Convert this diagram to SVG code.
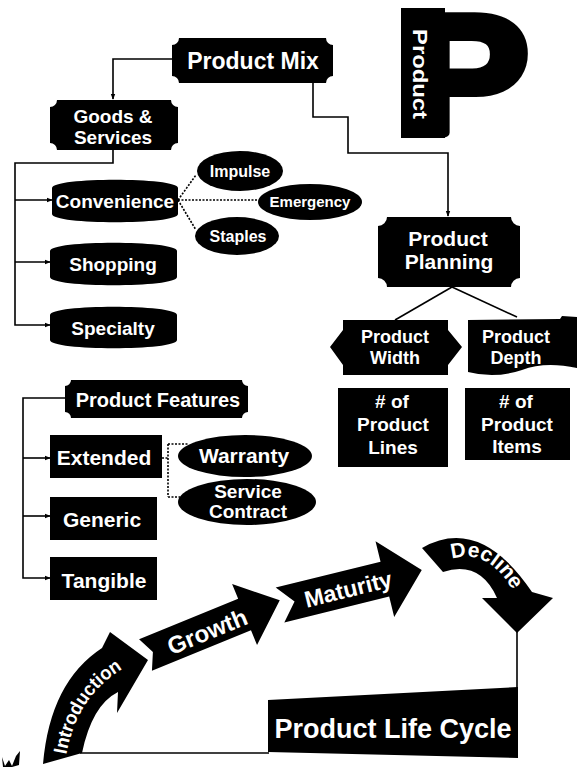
<svg xmlns="http://www.w3.org/2000/svg" width="581" height="767" viewBox="0 0 581 767">
<style>
.blk{fill:#000}
.t{font-family:"Liberation Sans",Arial,sans-serif;font-weight:bold;fill:#fff;text-anchor:middle}
.con{fill:none;stroke:#000;stroke-width:1.6}
.dot{fill:none;stroke:#000;stroke-width:1.6;stroke-dasharray:2 1.5}
</style>
<defs>
<marker id="ah" viewBox="0 0 8 8" refX="7" refY="4" markerWidth="6" markerHeight="6" orient="auto" markerUnits="userSpaceOnUse"><path d="M0,1 L8,4 L0,7 Z" fill="#000"/></marker>
<path id="introPath" d="M64,774 Q70,690 140,660"/>
<path id="declPath" d="M436,567 Q488,534 521,606"/>
</defs>
<rect width="581" height="767" fill="#fff"/>

<g id="connectors">
<path class="con" d="M172,59 H113 V99" marker-end="url(#ah)"/>
<path class="con" d="M313,83 V117 H348 V153 H448 V216" marker-end="url(#ah)"/>
<path class="con" d="M113,150 V163 H15 V325 H50" marker-end="url(#ah)"/>
<path class="con" d="M15,200 H52" marker-end="url(#ah)"/>
<path class="con" d="M15,262 H50" marker-end="url(#ah)"/>
<path class="dot" d="M178,200 L196,175"/>
<path class="dot" d="M178,200 H258"/>
<path class="dot" d="M178,200 L196,230"/>
<path class="con" d="M452,287 L395,320"/>
<path class="con" d="M452,287 L517,317"/>
<path class="con" d="M65,398 H23 V578 H50" marker-end="url(#ah)"/>
<path class="con" d="M23,458 H50" marker-end="url(#ah)"/>
<path class="con" d="M23,516 H50" marker-end="url(#ah)"/>
<path class="dot" d="M162,458 H168 M168,444 V497 M168,444 H188 M168,497 H180"/>
<path class="con" d="M517,630 V688"/>
<path class="con" d="M80,753 H269"/>
</g>

<g id="product-mix">
<path class="blk" d="M179,38 H326 A7,7 0 0 0 333,45 V76 A7,7 0 0 0 326,83 H179 A7,7 0 0 0 172,76 V45 A7,7 0 0 0 179,38 Z"/>
<text class="t" x="253" y="69" font-size="23">Product Mix</text>
</g>

<g id="goods-services">
<path class="blk" d="M57,100 H171 A7,7 0 0 0 178,107 V143 A7,7 0 0 0 171,150 H57 A7,7 0 0 0 50,143 V107 A7,7 0 0 0 57,100 Z"/>
<text class="t" x="113" y="123" font-size="19">Goods &amp;</text>
<text class="t" x="113" y="144" font-size="19">Services</text>
</g>

<g id="convenience">
<path class="blk" d="M52,188 C52,177 178,177 178,188 V214 C178,225 52,225 52,214 Z"/>
<text class="t" x="115" y="208" font-size="19">Convenience</text>
</g>
<g id="shopping">
<path class="blk" d="M50,251 C50,240 177,240 177,251 V277 C177,288 50,288 50,277 Z"/>
<text class="t" x="113" y="271" font-size="19">Shopping</text>
</g>
<g id="specialty">
<path class="blk" d="M50,315 C50,304 177,304 177,315 V340 C177,351 50,351 50,340 Z"/>
<text class="t" x="113" y="335" font-size="19">Specialty</text>
</g>

<g id="impulse">
<ellipse class="blk" cx="240" cy="171" rx="43" ry="20"/>
<text class="t" x="240" y="177" font-size="16">Impulse</text>
</g>
<g id="emergency">
<ellipse class="blk" cx="310" cy="202" rx="52" ry="18"/>
<text class="t" x="310" y="207" font-size="15">Emergency</text>
</g>
<g id="staples">
<ellipse class="blk" cx="237" cy="236" rx="42" ry="19"/>
<text class="t" x="238" y="242" font-size="16">Staples</text>
</g>

<g id="product-p">
<rect class="blk" x="401" y="8" width="44" height="130"/>
<text transform="translate(405,133) scale(1.11,1)" font-family="Liberation Sans,Arial,sans-serif" font-weight="bold" font-size="167" fill="#000" stroke="#000" stroke-width="10" stroke-linejoin="round">P</text>
<text class="t" transform="translate(413,74) rotate(90)" font-size="21" textLength="90" lengthAdjust="spacingAndGlyphs" font-weight="normal">Product</text>
</g>

<g id="product-planning">
<path class="blk" d="M387,217 H511 A9,9 0 0 0 520,226 V278 A9,9 0 0 0 511,287 H387 A9,9 0 0 0 378,278 V226 A9,9 0 0 0 387,217 Z"/>
<text class="t" x="448" y="246" font-size="21">Product</text>
<text class="t" x="449" y="269" font-size="21">Planning</text>
</g>

<g id="product-width">
<path class="blk" d="M343,320 H448 V330 L462,347 L448,365 V375 H343 V365 L330,347 L343,330 Z"/>
<text class="t" x="395" y="343" font-size="18">Product</text>
<text class="t" x="395" y="364" font-size="18">Width</text>
</g>

<g id="product-depth">
<path class="blk" d="M468,320 L560,319 L562,316 L577,317 L577,368 Q545,361 522,370 Q495,379 468,372 Z"/>
<text class="t" x="516" y="343" font-size="18">Product</text>
<text class="t" x="516" y="364" font-size="18">Depth</text>
</g>

<g id="product-lines">
<rect class="blk" x="338" y="388" width="110" height="79"/>
<text class="t" x="392" y="408" font-size="19"># of</text>
<text class="t" x="393" y="431" font-size="19">Product</text>
<text class="t" x="393" y="454" font-size="19">Lines</text>
</g>

<g id="product-items">
<rect class="blk" x="465" y="388" width="105" height="72"/>
<text class="t" x="516" y="408" font-size="19"># of</text>
<text class="t" x="517" y="431" font-size="19">Product</text>
<text class="t" x="517" y="453" font-size="19">Items</text>
</g>

<g id="product-features">
<path class="blk" d="M71,380 H242 A6,6 0 0 0 248,386 V412 A6,6 0 0 0 242,418 H71 A6,6 0 0 0 65,412 V386 A6,6 0 0 0 71,380 Z"/>
<text class="t" x="158" y="407" font-size="20">Product Features</text>
</g>

<g id="extended">
<rect class="blk" x="50" y="435" width="112" height="43"/>
<text class="t" x="104" y="465" font-size="21">Extended</text>
</g>
<g id="generic">
<rect class="blk" x="50" y="497" width="107" height="43"/>
<text class="t" x="102" y="527" font-size="21">Generic</text>
</g>
<g id="tangible">
<rect class="blk" x="50" y="557" width="107" height="43"/>
<text class="t" x="104" y="588" font-size="21">Tangible</text>
</g>

<g id="warranty">
<ellipse class="blk" cx="245" cy="456" rx="67" ry="21"/>
<text class="t" x="244" y="463" font-size="21">Warranty</text>
</g>
<g id="service-contract">
<ellipse class="blk" cx="247" cy="502" rx="69" ry="23"/>
<text class="t" x="248" y="498" font-size="19">Service</text>
<text class="t" x="248" y="518" font-size="19">Contract</text>
</g>

<g id="introduction">
<path class="blk" d="M43,764 Q50,682 102,648 L110,632 L148,660 L117,713 L118,692 Q92,705 82,753 Z"/>
<text class="t" font-size="19"><textPath href="#introPath" startOffset="50%" textLength="106" lengthAdjust="spacingAndGlyphs">Introduction</textPath></text>
</g>

<g id="growth" transform="translate(145.5,655) rotate(-22.2)">
<path class="blk" d="M0,-17 H107 V-33 L145,0 L107,33 V17 H0 L8,0 Z"/>
<text class="t" x="66" y="10" font-size="24">Growth</text>
</g>

<g id="maturity" transform="translate(280,605) rotate(-13.85)">
<path class="blk" d="M0,-18 H108 V-39 L146,0 L108,39 V18 H0 L15,0 Z"/>
<text class="t" x="70" y="9" font-size="23">Maturity</text>
</g>

<g id="decline">
<path class="blk" d="M422,548 Q480,515 532,592 L553,598 L517,633 L482,598 L497,598 Q480,560 443,572 Z"/>
<text class="t" font-size="21"><textPath href="#declPath" startOffset="50%">Decline</textPath></text>
</g>

<g id="product-life-cycle">
<path class="blk" d="M268,700 L518,687 L518,758 L268,752 Z"/>
<text class="t" x="393" y="738" font-size="27">Product Life Cycle</text>
</g>

<path class="blk" d="M2,757 L5,766 L9,760 L12,766 L16,756 L20,751 L19,765 L12,767 L3,767 Z"/>
</svg>
